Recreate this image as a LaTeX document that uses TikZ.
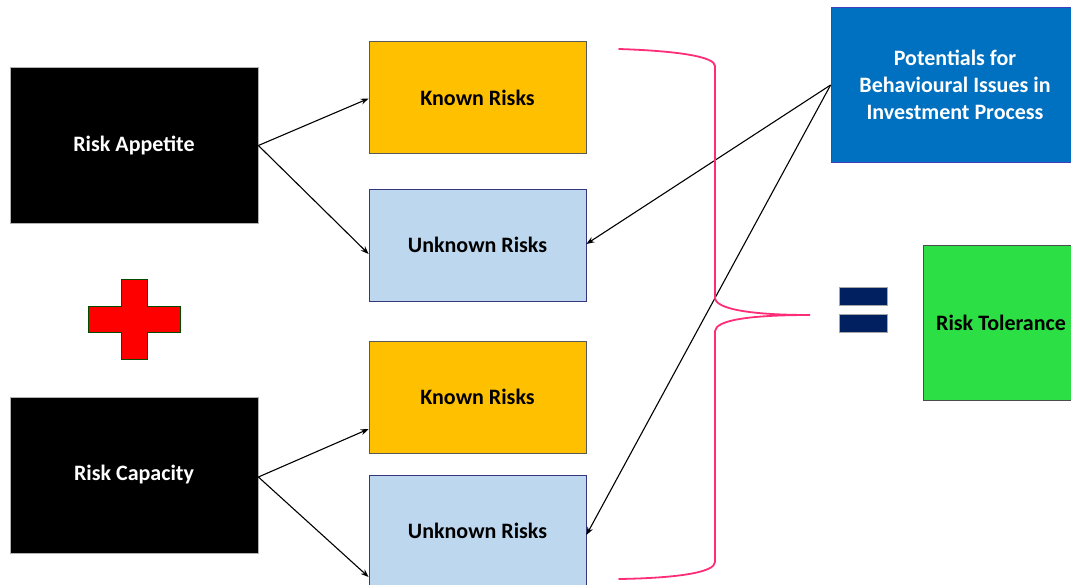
\documentclass[tikz,border=0pt]{standalone}
\usepackage{fontspec}
\setmainfont{Carlito}
\usetikzlibrary{arrows.meta}
\definecolor{amber}{HTML}{FFC000}
\definecolor{paleblue}{HTML}{BDD7EE}
\definecolor{deepblue}{HTML}{0070C0}
\definecolor{brightgreen}{HTML}{2BDF45}
\definecolor{navy}{HTML}{002060}
\definecolor{bracepink}{HTML}{FF2D78}
\tikzset{
  box/.style={draw=#1, line width=0.8pt, minimum width=217pt, minimum height=112pt,
    inner sep=0pt, font=\fontsize{22}{27}\selectfont\bfseries, align=center},
  darkbox/.style={box=gray!60, fill=black, text=white, minimum width=248pt, minimum height=156pt},
  knownbox/.style={box=gray!70!black, fill=amber},
  unknownbox/.style={box=gray!60!blue!70!black, fill=paleblue},
  link/.style={draw=black, line width=1.1pt, -{Stealth[length=8pt,width=6pt]}},
  brace/.style={draw=bracepink, line width=1.8pt, line cap=round},
}
\begin{document}
\begin{tikzpicture}[x=1pt, y=-1pt]
\useasboundingbox (0,0) rectangle (1071,584);
\clip (0,0) rectangle (1071,584);

% left-hand inputs
\node[darkbox] (app) at (134,145.5) {Risk Appetite};
\node[darkbox] (cap) at (134,475) {Risk Capacity};

% plus sign
\path[fill=red, draw=green!30!black, line width=0.6pt]
  (121,279) -- (147,279) -- (147,306) -- (180,306) -- (180,332) -- (147,332)
  -- (147,359) -- (121,359) -- (121,332) -- (88,332) -- (88,306) -- (121,306) -- cycle;

% risk categories
\node[knownbox]   (k1) at (477.5,97.5) {Known Risks};
\node[unknownbox] (u1) at (477.5,245)  {Unknown Risks};
\node[knownbox]   (k2) at (477.5,397)  {Known Risks};
\node[unknownbox] (u2) at (477.5,531)  {Unknown Risks};

% behavioural issues and result
\node[box=gray!50!blue, fill=deepblue, text=white, minimum width=248pt, minimum height=155pt]
      (beh) at (955,84.5) {Potentials for\\Behavioural Issues in\\Investment Process};
\node[box=gray!60!black, fill=brightgreen, minimum width=156pt, minimum height=155pt]
      (tol) at (1001,322.5) {Risk Tolerance};

% equals sign
\path[fill=navy, draw=gray!70, line width=0.5pt] (839,287) rectangle (887,305);
\path[fill=navy, draw=gray!70, line width=0.5pt] (839,314) rectangle (887,332);

% connectors
\draw[link] (app.east) -- ([yshift=-1pt]k1.west);
\draw[link] (app.east) -- ([yshift=-9pt]u1.west);
\draw[link] ([yshift=-2pt]cap.east) -- ([yshift=-32pt]k2.west);
\draw[link] ([yshift=-2pt]cap.east) -- ([yshift=-46pt]u2.west);
\draw[link] ([yshift=-0.5pt]beh.west) -- ([yshift=1pt]u1.east);
\draw[link] ([yshift=-0.5pt]beh.west) -- ([yshift=-4pt]u2.east);

% grouping brace
\coordinate (bt) at (619,49);
\coordinate (bb) at (619,579);
\coordinate (tip) at (810,315);
\draw[brace] (bt) .. controls (680,51) and (715,57) .. (715,66)
  -- (715,298) .. controls (716,309) and (750,315) .. (tip)
  .. controls (750,315) and (716,320) .. (715,331)
  -- (715,562) .. controls (715,572) and (680,578) .. (bb);
\end{tikzpicture}
\end{document}
